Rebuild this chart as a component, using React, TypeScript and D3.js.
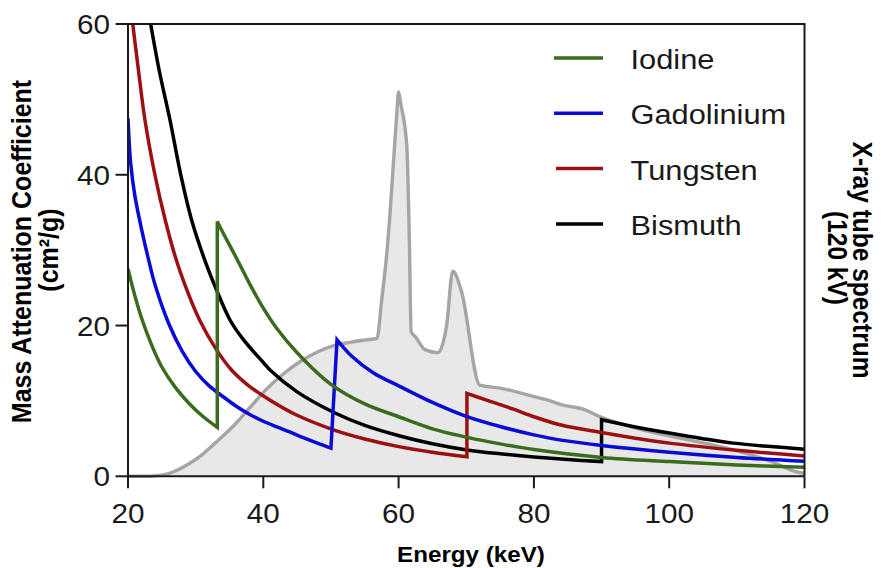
import React from "react";
import * as d3 from "d3";

type P = [number, number];

const xTicks = [20, 40, 60, 80, 100, 120];
const yTicks = [0, 20, 40, 60];

const seriesNames = ["Iodine", "Gadolinium", "Tungsten", "Bismuth"];
const seriesColors = ["#3a6b1e", "#0b0bd6", "#9c1010", "#000000"];

// Iodine (K-edge ~33.2 keV)
const iodineBelow: P[] = [[20, 27.5], [21, 24.0], [22, 21.0], [23.5, 17.4], [25, 14.5], [27, 11.8], [29, 9.7], [31, 8.0], [33.2, 6.5]];
const iodineAbove: P[] = [[33.2, 33.8], [34.1, 32.2], [36, 29.0], [38, 25.5], [40, 22.3], [42, 19.6], [45, 16.4], [50, 12.2], [55, 9.6], [60, 7.9], [65, 6.3], [70, 5.2], [75, 4.3], [80, 3.55], [90, 2.5], [100, 1.95], [110, 1.5], [120, 1.2]];

// Gadolinium (K-edge ~50.2 keV)
const gadoliniumBelow: P[] = [[20, 47.5], [20.4, 41.5], [21, 37.3], [22, 32.8], [23, 28.9], [24, 25.4], [26, 20.3], [28, 16.6], [30, 13.9], [32, 12.0], [34, 10.6], [36, 9.3], [38, 8.2], [40, 7.3], [42, 6.55], [44, 5.85], [46, 5.1], [48, 4.4], [50, 3.75]];
const gadoliniumAbove: P[] = [[50.9, 18.1], [53, 16.0], [56.3, 13.7], [60, 12.0], [65, 9.8], [70, 7.95], [75, 6.6], [80, 5.5], [84, 4.8], [90, 4.1], [100, 3.2], [110, 2.5], [120, 2.0]];

// Tungsten (K-edge ~69.5 keV)
const tungstenBelow: P[] = [[20.7, 60], [21.5, 54.2], [22.5, 47.3], [24, 39.9], [25.5, 34.0], [27, 29.1], [28.5, 25.2], [30.6, 20.7], [33, 16.9], [35.3, 14.1], [38, 11.9], [41, 10.1], [45, 8.1], [50.6, 6.1], [55, 4.95], [60.2, 3.9], [65, 3.2], [70.1, 2.6]];
const tungstenAbove: P[] = [[70.1, 11.0], [73, 10.1], [75, 9.5], [77, 8.9], [80, 7.9], [84, 6.8], [90, 5.8], [95, 5.05], [100, 4.4], [110, 3.45], [120, 2.7]];

// Bismuth (K-edge ~90.5 keV)
const bismuthBelow: P[] = [[23.35, 60], [24.6, 53.9], [26.2, 47.3], [27.8, 40.0], [29.4, 34.0], [31.5, 28.3], [33, 24.9], [35.1, 20.7], [37, 18.2], [40, 15.1], [41, 14.1], [45, 11.2], [50.6, 8.4], [55, 6.76], [60.2, 5.35], [65, 4.32], [70.1, 3.5], [75, 2.99], [80, 2.57], [85, 2.23], [90, 1.95]];
const bismuthAbove: P[] = [[90, 7.5], [95, 6.55], [99.6, 5.8], [105, 4.98], [109.5, 4.4], [115, 3.95], [120, 3.6]];

// X-ray tube spectrum (120 kV), drawn on the same vertical frame
const spectrum: P[] = [[20, 0], [23, 0], [24.5, 0.1], [25.7, 0.3], [27, 0.7], [28.5, 1.4], [30.6, 2.6], [33, 4.5], [35.5, 6.6], [38, 9.1], [40.4, 11.5], [43, 13.6], [45.4, 15.2], [48, 16.5], [50.3, 17.3], [53, 17.8], [55.2, 18.1], [56.8, 18.3], [57.5, 23.4], [58.3, 30.0], [58.7, 34.4], [59.2, 41.1], [59.7, 47.7], [60.0, 51.0], [60.3, 49.5], [61.2, 44.0], [61.6, 31.0], [61.85, 19.2], [62.5, 18.5], [63.9, 16.8], [65.8, 16.4], [66.5, 17.5], [67.1, 20.0], [68.0, 27.2], [69.3, 24.5], [72.0, 12.1], [75.0, 11.7], [79.9, 10.6], [82.4, 10.0], [84, 9.5], [87.3, 8.9], [89.8, 7.9], [95, 6.4], [102, 5.0], [109.5, 3.5], [115, 2.0], [118.8, 0.6], [120, 0.4]];

const seriesData: [P[], P[]][] = [
  [iodineBelow, iodineAbove],
  [gadoliniumBelow, gadoliniumAbove],
  [tungstenBelow, tungstenAbove],
  [bismuthBelow, bismuthAbove],
];

const SX = 1.1;
const FONT = "'Liberation Sans', Arial, Helvetica, sans-serif";

export default function App() {
  const W = 881, H = 568;
  const x = d3.scaleLinear().domain([20, 120]).range([128, 804.5]);
  const y = d3.scaleLinear().domain([0, 60]).range([476.3, 24]);
  const [x0, x1] = x.range();
  const [y0, y1] = y.range();

  const line = d3.line<P>().x(d => x(d[0])).y(d => y(d[1])).curve(d3.curveCatmullRom.alpha(0.5));
  const joined = (lo: P[], hi: P[]) => (line(lo) || "") + (line(hi) || "").replace(/^M/, "L");

  const specLine = d3.line<P>().x(d => x(d[0])).y(d => y(d[1])).curve(d3.curveMonotoneX);
  const area = d3.area<P>().x(d => x(d[0])).y0(y(0)).y1(d => y(d[1])).curve(d3.curveMonotoneX);

  const drawOrder = [3, 2, 1, 0];

  return (
    <svg width={W} height={H} style={{ position: "absolute", left: 0, top: 0, background: "#fff" }} fontFamily={FONT}>
      <defs>
        <clipPath id="plotclip">
          <rect x={x0} y={y1 - 2} width={x1 - x0} height={y0 - y1 + 2} />
        </clipPath>
      </defs>

      {/* spectrum */}
      <path d={area(spectrum) || ""} fill="#e8e8e8" stroke="none" />
      <path d={specLine(spectrum) || ""} fill="none" stroke="#a5a5a5" strokeWidth={3.4} strokeLinejoin="round" />

      {/* attenuation curves */}
      <g clipPath="url(#plotclip)">
        {drawOrder.map(i => (
          <path key={i} d={joined(seriesData[i][0], seriesData[i][1])} fill="none" stroke={seriesColors[i]} strokeWidth={3.5} strokeLinejoin="miter" />
        ))}
      </g>

      {/* frame */}
      <g stroke="#1a1a1a" strokeWidth={2} fill="none">
        <line x1={x0} y1={y0} x2={x1} y2={y0} />
        <line x1={x0} y1={y0} x2={x0} y2={y1 - 1} />
        <line x1={x0 - 1} y1={y1} x2={x1 + 1} y2={y1} />
        <line x1={x1} y1={y1} x2={x1} y2={y0} />
        {xTicks.map(t => <line key={"xt" + t} x1={x(t)} x2={x(t)} y1={y0} y2={y0 + 12} />)}
        {yTicks.map(t => <line key={"yt" + t} x1={x0 - 12.5} x2={x0} y1={y(t)} y2={y(t)} />)}
      </g>

      {/* tick labels */}
      {xTicks.map(t => (
        <text key={"xl" + t} transform={`translate(${x(t)},523) scale(${SX},1)`} textAnchor="middle" fontSize={27} fill="#1a1a1a">{t}</text>
      ))}
      {yTicks.map(t => (
        <text key={"yl" + t} transform={`translate(110,${y(t) + 10}) scale(${SX},1)`} textAnchor="end" fontSize={27} fill="#1a1a1a">{t}</text>
      ))}

      {/* axis titles */}
      <text transform={`translate(471,561.5) scale(${SX},1)`} textAnchor="middle" fontSize={22} fontWeight="bold" fill="#000">Energy (keV)</text>
      <text transform={`translate(30.7,251.5) scale(${SX},1) rotate(-90)`} textAnchor="middle" fontSize={25} fontWeight="bold" fill="#000">Mass Attenuation Coefficient</text>
      <text transform={`translate(57.5,250) scale(${SX},1) rotate(-90)`} textAnchor="middle" fontSize={25} fontWeight="bold" fill="#000">(cm²/g)</text>
      <text transform={`translate(853,260) scale(${SX},1) rotate(90)`} textAnchor="middle" fontSize={24.5} fontWeight="bold" fill="#000">X-ray tube spectrum</text>
      <text transform={`translate(828,258) scale(${SX},1) rotate(90)`} textAnchor="middle" fontSize={24.5} fontWeight="bold" fill="#000">(120 kV)</text>

      {/* legend */}
      {seriesNames.map((n, i) => {
        const ly = 58 + i * 55.3;
        return (
          <g key={n}>
            <line x1={i < 2 ? 554 : 556} x2={603} y1={ly} y2={ly} stroke={seriesColors[i]} strokeWidth={3.5} />
            <text transform={`translate(630.5,${ly + 11}) scale(${SX},1)`} fontSize={28} fill="#1a1a1a">{n}</text>
          </g>
        );
      })}
    </svg>
  );
}
